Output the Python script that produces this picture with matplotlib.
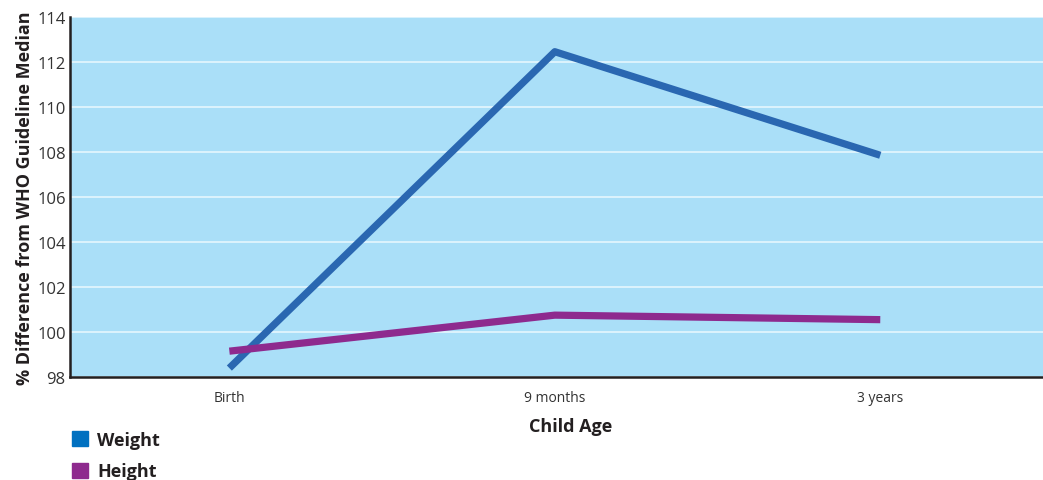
import matplotlib
matplotlib.use("Agg")
import matplotlib.pyplot as plt
from matplotlib.patches import Patch

categories = ["Birth", "9 months", "3 years"]
weight = [98.4, 112.45, 107.85]
height = [99.15, 100.75, 100.55]
yticks = [98, 100, 102, 104, 106, 108, 110, 112, 114]

plt.rcParams['font.family'] = ['Open Sans', 'DejaVu Sans']

fig = plt.figure(figsize=(10.43, 4.81), dpi=100)
ax = fig.add_axes([0.067, 0.214, 0.933, 0.749])
ax.set_facecolor('#aadff8')
x = list(range(len(categories)))
ax.plot(x, weight, color='#2a67b1', lw=5.2, solid_capstyle='butt', zorder=3)
ax.plot(x, height, color='#8e2a8e', lw=5.2, solid_capstyle='butt', zorder=3)
ax.set_xlim(-0.49, 2.5)
ax.set_ylim(98, 114)
ax.set_yticks(yticks)
ax.set_yticklabels([str(t) for t in yticks], fontsize=12, color='#333333')
ax.set_xticks(x)
ax.set_xticklabels(categories, fontsize=10, color='#333333')
ax.tick_params(axis='both', length=0, pad=3)
ax.tick_params(axis='x', pad=9)
ax.grid(axis='y', color='#e6f6fd', lw=1.2)
ax.set_axisbelow(True)
for s in ['top', 'right']:
    ax.spines[s].set_visible(False)
for s in ['left', 'bottom']:
    ax.spines[s].set_color('#231f20')
    ax.spines[s].set_linewidth(1.8)
ax.set_ylabel('% Difference from WHO Guideline Median', fontsize=13, fontweight='bold', color='#231f20', labelpad=2)
ax.set_xlabel('Child Age', fontsize=13, fontweight='bold', color='#231f20')
ax.xaxis.set_label_coords(0.515, -0.112)

handles = [Patch(color='#0070c0', label='Weight'), Patch(color='#8e2a8e', label='Height')]
leg = fig.legend(handles=handles, loc='upper left', bbox_to_anchor=(0.055, 0.132), frameon=False,
                 prop={'weight': 'bold', 'size': 13}, handlelength=0.9, handleheight=0.9,
                 handletextpad=0.5, labelspacing=0.75, borderpad=0.3)
for t in leg.get_texts():
    t.set_color('#231f20')

fig.savefig('out.png', dpi=100)
